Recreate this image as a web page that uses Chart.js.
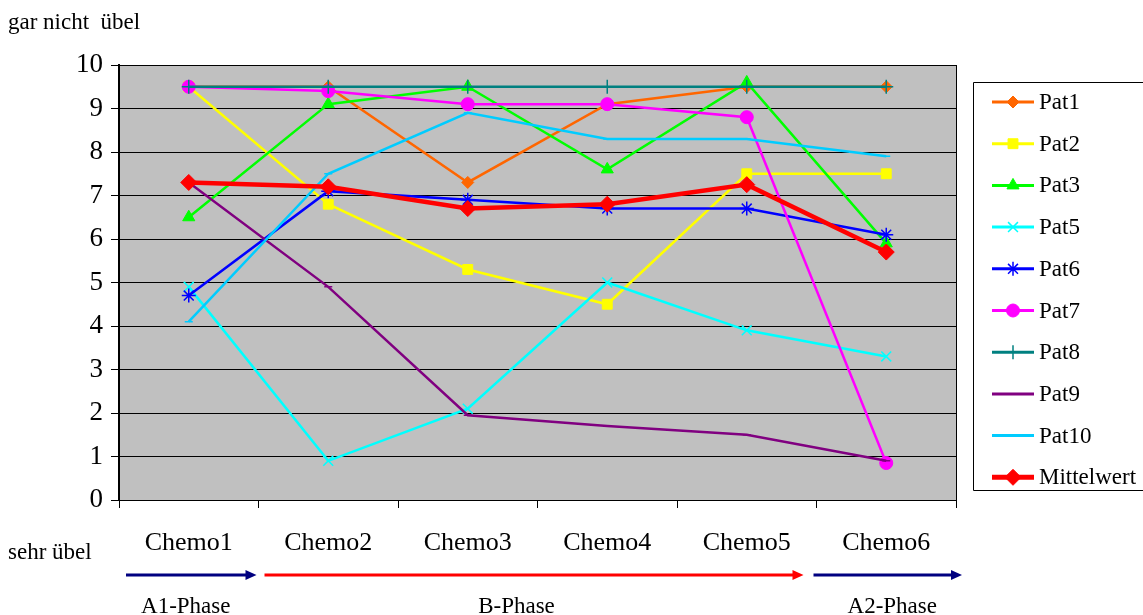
<!DOCTYPE html>
<html>
<head>
<meta charset="utf-8">
<script src="https://cdn.jsdelivr.net/npm/chart.js@4.4.1/dist/chart.umd.min.js"></script>
<style>
  html, body { margin: 0; padding: 0; background: #ffffff; }
  #wrap { width: 1143px; height: 615px; position: relative; }
</style>
</head>
<body>
<div id="wrap"><canvas id="c" width="1143" height="615"></canvas></div>
<script>
// Übelkeit je Chemozyklus (10 = gar nicht übel, 0 = sehr übel)
const categories = ['Chemo1', 'Chemo2', 'Chemo3', 'Chemo4', 'Chemo5', 'Chemo6'];
const pat1  = [9.5, 9.5, 7.3, 9.1, 9.5, 9.5];
const pat2  = [9.5, 6.8, 5.3, 4.5, 7.5, 7.5];
const pat3  = [6.5, 9.1, 9.5, 7.6, 9.6, 5.9];
const pat5  = [4.9, 0.9, 2.1, 5.0, 3.9, 3.3];
const pat6  = [4.7, 7.1, 6.9, 6.7, 6.7, 6.1];
const pat7  = [9.5, 9.4, 9.1, 9.1, 8.8, 0.85];
const pat8  = [9.5, 9.5, 9.5, 9.5, 9.5, 9.5];
const pat9  = [7.3, 4.9, 1.95, 1.7, 1.5, 0.9];
const pat10 = [4.1, 7.5, 8.9, 8.3, 8.3, 7.9];
const mittelwert = [7.3, 7.2, 6.7, 6.8, 7.25, 5.7];
const yTicks = [0, 1, 2, 3, 4, 5, 6, 7, 8, 9, 10];
const phases = ['A1-Phase', 'B-Phase', 'A2-Phase'];
const topLabel = 'gar nicht  übel';
const bottomLabel = 'sehr übel';

const serif = '"Liberation Serif", "Times New Roman", serif';

const seriesDefs = [
  { label: 'Pat1',  data: pat1,  color: '#FF6600', style: 'rectRot',  r: 6,  w: 2.5 },
  { label: 'Pat2',  data: pat2,  color: '#FFFF00', style: 'rect',     r: 7,  w: 2.5 },
  { label: 'Pat3',  data: pat3,  color: '#00FF00', style: 'triangle', r: 7,  w: 2.5 },
  { label: 'Pat5',  data: pat5,  color: '#00FFFF', style: 'crossRot', r: 7,  w: 2.5 },
  { label: 'Pat6',  data: pat6,  color: '#0000FF', style: 'star',     r: 7,  w: 2.5 },
  { label: 'Pat7',  data: pat7,  color: '#FF00FF', style: 'circle',   r: 6.5, w: 2.5 },
  { label: 'Pat8',  data: pat8,  color: '#008080', style: 'cross',    r: 7,  w: 2.5 },
  { label: 'Pat9',  data: pat9,  color: '#800080', style: 'line',     r: 4,  w: 2.5 },
  { label: 'Pat10', data: pat10, color: '#00CCFF', style: 'line',     r: 4,  w: 2.5 },
  { label: 'Mittelwert', data: mittelwert, color: '#FF0000', style: 'rectRot', r: 8, w: 4.5 }
];

const datasets = seriesDefs.map((s, i) => ({
  label: s.label,
  data: s.data,
  borderColor: s.color,
  backgroundColor: s.color,
  borderWidth: s.w,
  pointStyle: s.style,
  pointRadius: s.r,
  pointHoverRadius: s.r,
  pointBorderColor: s.color,
  pointBackgroundColor: s.color,
  pointBorderWidth: (s.style === 'crossRot' || s.style === 'star' || s.style === 'cross' || s.style === 'line') ? 1.5 : 1,
  tension: 0,
  fill: false,
  order: seriesDefs.length - i
}));

// grey plot background and frame
const plotFrame = {
  id: 'plotFrame',
  beforeDraw(chart) {
    const { ctx, chartArea: a } = chart;
    ctx.save();
    ctx.fillStyle = '#C0C0C0';
    ctx.fillRect(a.left, a.top, a.right - a.left, a.bottom - a.top);
    ctx.restore();
  },
  afterDatasetsDraw(chart) {
    const { ctx, chartArea: a } = chart;
    ctx.save();
    ctx.strokeStyle = '#000';
    ctx.lineWidth = 1;
    ctx.beginPath();
    ctx.moveTo(a.right + 0.5, a.top);
    ctx.lineTo(a.right + 0.5, a.bottom);
    ctx.stroke();
    ctx.restore();
  }
};

// legend box at the right with line + marker samples
const boxLegend = {
  id: 'boxLegend',
  afterDraw(chart) {
    const { ctx } = chart;
    ctx.save();
    ctx.strokeStyle = '#000';
    ctx.lineWidth = 1;
    ctx.beginPath();
    ctx.moveTo(1150, 82.5);
    ctx.lineTo(973.5, 82.5);
    ctx.lineTo(973.5, 490.5);
    ctx.lineTo(1150, 490.5);
    ctx.stroke();
    ctx.font = '23px ' + serif;
    ctx.textBaseline = 'middle';
    ctx.textAlign = 'left';
    chart.data.datasets.forEach((ds, i) => {
      const y = 102 + i * 41.7;
      ctx.strokeStyle = ds.borderColor;
      ctx.lineWidth = ds.borderWidth + 0.5;
      ctx.beginPath();
      ctx.moveTo(992, y);
      ctx.lineTo(1034, y);
      ctx.stroke();
      ctx.fillStyle = ds.pointBackgroundColor;
      ctx.strokeStyle = ds.pointBorderColor;
      ctx.lineWidth = ds.pointBorderWidth;
      Chart.helpers.drawPoint(ctx, {
        pointStyle: ds.pointStyle,
        radius: ds.pointRadius,
        borderWidth: ds.pointBorderWidth,
        rotation: 0
      }, 1013, y);
      ctx.fillStyle = '#000';
      ctx.fillText(ds.label, 1039, y + 1);
    });
    ctx.restore();
  }
};

// side captions, phase arrows and phase names
const phaseNotes = {
  id: 'phaseNotes',
  afterDraw(chart) {
    const { ctx } = chart;
    const x = chart.scales.x;
    const a = chart.chartArea;
    const step = (a.right - a.left) / categories.length;
    const edge = k => a.left + step * k;
    ctx.save();
    ctx.fillStyle = '#000';
    ctx.font = '23px ' + serif;
    ctx.textAlign = 'left';
    ctx.textBaseline = 'alphabetic';
    ctx.fillText(topLabel, 8, 29);
    ctx.fillText(bottomLabel, 8, 559);

    const arrow = (x0, x1, y, color) => {
      ctx.strokeStyle = color;
      ctx.fillStyle = color;
      ctx.lineWidth = 3;
      ctx.beginPath();
      ctx.moveTo(x0, y);
      ctx.lineTo(x1 - 9, y);
      ctx.stroke();
      ctx.beginPath();
      ctx.moveTo(x1, y);
      ctx.lineTo(x1 - 11, y - 5);
      ctx.lineTo(x1 - 11, y + 5);
      ctx.closePath();
      ctx.fill();
    };
    const ay = 575;
    arrow(edge(0) + 7, edge(1) - 2, ay, '#000080');
    arrow(edge(1) + 6, edge(5) - 13, ay, '#FF0000');
    arrow(edge(5) - 3, edge(6) + 6, ay, '#000080');

    ctx.fillStyle = '#000';
    ctx.font = '23px ' + serif;
    ctx.textAlign = 'center';
    ctx.fillText(phases[0], x.getPixelForValue(0) - 3, 613);
    ctx.fillText(phases[1], (x.getPixelForValue(2) + x.getPixelForValue(3)) / 2 - 21, 613);
    ctx.fillText(phases[2], x.getPixelForValue(5) + 6, 613);
    ctx.restore();
  }
};

new Chart(document.getElementById('c'), {
  type: 'line',
  data: { labels: categories, datasets },
  plugins: [plotFrame, boxLegend, phaseNotes],
  options: {
    responsive: false,
    animation: false,
    devicePixelRatio: 1,
    layout: { padding: { top: 65, right: 187, left: 0, bottom: 0 } },
    plugins: { legend: { display: false }, tooltip: { enabled: false } },
    scales: {
      x: {
        type: 'category',
        offset: true,
        afterFit(s) { s.height = 115; },
        grid: { offset: true, drawOnChartArea: false, drawTicks: true, tickLength: 8, color: '#000', lineWidth: 1 },
        border: { color: '#000', width: 1 },
        ticks: { color: '#000', font: { family: serif, size: 26 }, padding: 20, maxRotation: 0, autoSkip: false }
      },
      y: {
        min: 0,
        max: 10,
        afterFit(s) { s.width = 119; },
        afterBuildTicks(s) { s.ticks = yTicks.map(v => ({ value: v })); },
        grid: { color: '#000', lineWidth: 1, tickLength: 8, drawTicks: true },
        border: { color: '#000', width: 2 },
        ticks: { color: '#000', font: { family: serif, size: 27 }, padding: 8, stepSize: 1 }
      }
    }
  }
});
</script>
</body>
</html>
